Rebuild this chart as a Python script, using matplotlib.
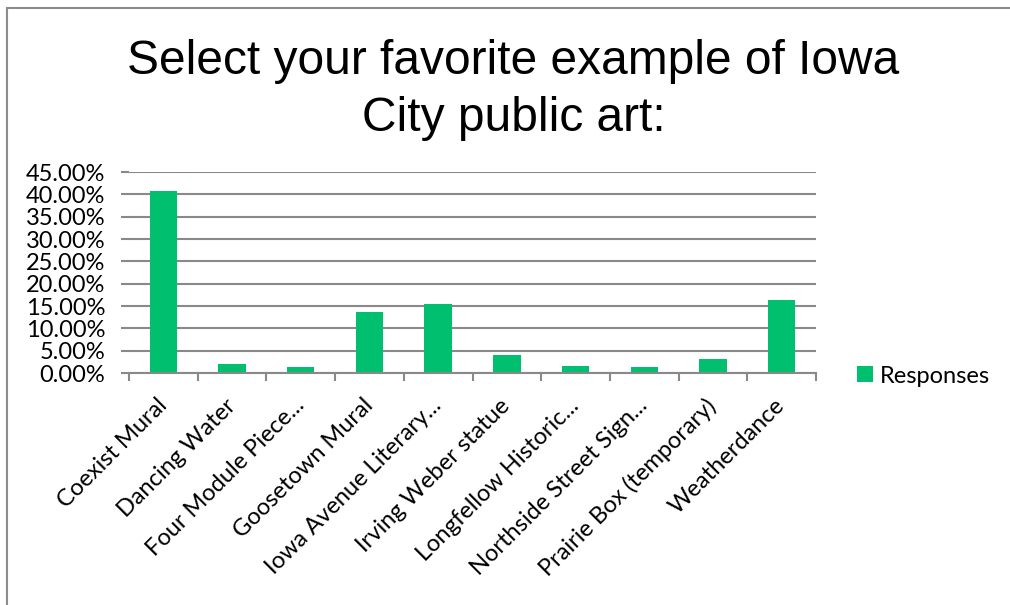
import matplotlib.pyplot as plt
from matplotlib.patches import Rectangle
from matplotlib.ticker import FuncFormatter, FixedLocator

categories = ["Coexist Mural", "Dancing Water", "Four Module Piece...",
              "Goosetown Mural", "Iowa Avenue Literary...", "Irving Weber statue",
              "Longfellow Historic...", "Northside Street Sign...",
              "Prairie Box (temporary)", "Weatherdance"]
responses = [40.65, 2.08, 1.40, 13.66, 15.45, 4.10, 1.48, 1.25, 3.20, 16.34]

green = "#00BF6F"
grid_gray = "#898989"
label_font = "Lato"
W, H = 1010, 605

fig = plt.figure(figsize=(W / 100, H / 100), dpi=100)
# outer chart border (clipped by the image edge on right/bottom)
fig.patches.append(Rectangle((7 / W, -0.1), 1.2, 1 - 8 / H + 0.1,
                             transform=fig.transFigure, fill=False,
                             edgecolor="#8c8c8c", linewidth=1.5))

ax = fig.add_axes([129 / W, 1 - 373 / H, (816 - 129) / W, (373 - 172) / H])
x = range(len(categories))
ax.bar(x, responses, width=0.4, color=green, zorder=3, label="Responses")

ax.set_xlim(-0.5, len(categories) - 0.5)
ax.set_ylim(0, 45)
ax.set_yticks(range(0, 46, 5))
ax.yaxis.set_major_formatter(FuncFormatter(lambda v, p: f"{v:.2f}%"))
ax.grid(axis="y", color=grid_gray, linewidth=1.5, zorder=0)

for s in ["top", "right", "left"]:
    ax.spines[s].set_visible(False)
ax.spines["bottom"].set_color(grid_gray)
ax.spines["bottom"].set_linewidth(1.5)
ax.spines["bottom"].set_zorder(4)

ax.tick_params(axis="y", length=6, width=1.5, color=grid_gray, pad=11, labelsize=17)
ax.xaxis.set_major_locator(FixedLocator([i - 0.5 for i in range(len(categories) + 1)]))
ax.xaxis.set_minor_locator(FixedLocator(list(x)))
ax.tick_params(axis="x", which="major", length=6, width=1.5, color=grid_gray,
               direction="out", labelbottom=False)
ax.tick_params(axis="x", which="minor", length=0, pad=21)
ax.set_xticklabels(categories, minor=True, rotation=45, ha="right", va="center",
                   rotation_mode="anchor", fontsize=17, fontname=label_font)
for t in ax.get_yticklabels():
    t.set_fontname(label_font)

# title, two lines
fig.text(513.5 / W, 1 - 74.5 / H, "Select your favorite example of Iowa",
         ha="center", va="baseline", fontsize=34.5, fontname="Liberation Sans")
fig.text(513.5 / W, 1 - 131 / H, "City public art:",
         ha="center", va="baseline", fontsize=34.5, fontname="Liberation Sans")

leg = ax.legend(loc="center left", bbox_to_anchor=(1.029, -0.015), frameon=False,
                prop={"family": label_font, "size": 17}, handlelength=0.65,
                handleheight=0.65, handletextpad=0.3)

plt.savefig("out.png", dpi=100)
